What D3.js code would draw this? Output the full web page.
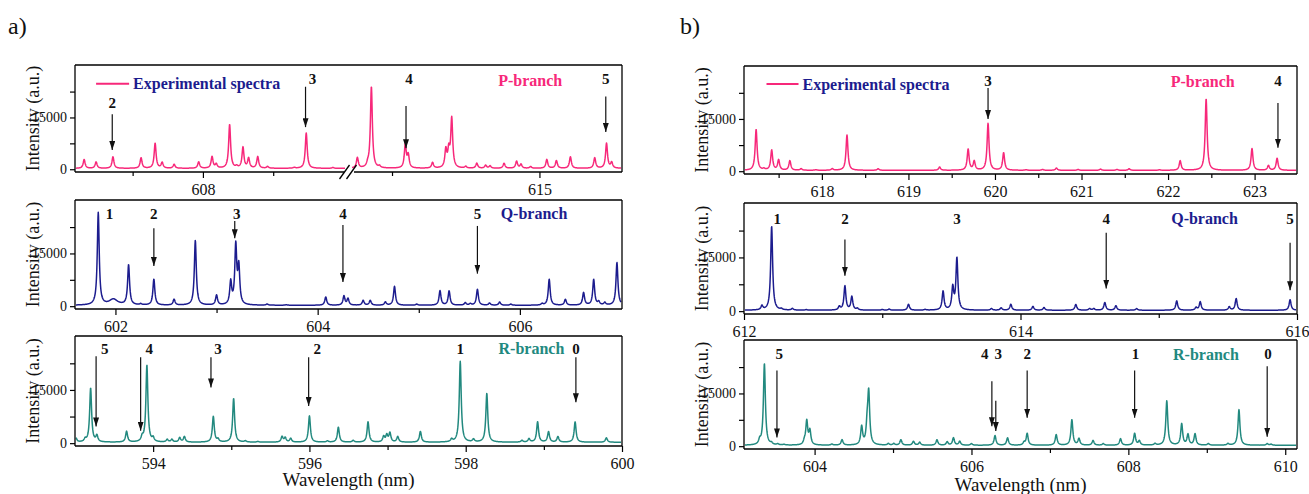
<!DOCTYPE html>
<html><head><meta charset="utf-8">
<script src="https://cdn.jsdelivr.net/npm/d3@7"></script>
<style>body{margin:0;background:#fff}svg{display:block}</style>
</head><body><svg id="c" width="1309" height="494"></svg>
<script>
// ---------- DATA (peak wavelength nm, intensity a.u.) ----------
const aP_peaks = [[606.31,2800],[606.48,2100],[606.72,3600],[607.12,3300],[607.32,7500],[607.42,1900],[607.59,1400],[607.94,2100],[608.13,3600],[608.19,1400],[608.38,12900],[608.48,750],[608.57,6300],[608.65,3100],[608.78,3600],[608.92,750],[609.30,500],[609.47,10500],[609.85,500],
  [612.53,3300],[612.67,1100],[612.72,23900],[612.83,750],[613.18,7000],[613.22,3900],[613.55,1900],[613.73,5400],[613.77,5000],[613.81,14500],[614.00,750],[614.15,1700],[614.27,1100],[614.33,950],[614.52,1700],[614.69,2300],[614.75,1400],[614.88,750],[615.10,2800],[615.23,2500],[615.42,3600],[615.75,3300],[615.91,7500],[615.98,1900]];
const aQ_peaks = [[601.83,26500],[602.13,11650],[602.25,570],[602.38,7640],[602.58,1900],[602.79,18700],[603.00,3050],[603.14,6700],[603.19,16900],[603.22,10700],[603.50,570],[603.69,380],[604.08,2600],[604.26,2860],[604.30,2100],[604.45,1620],[604.52,1620],[604.67,1150],[604.76,5630],[604.98,570],[605.21,4390],[605.30,4300],[605.46,955],[605.51,670],[605.58,4780],[605.70,860],[605.80,1150],[605.91,570],[606.22,670],[606.29,7640],[606.45,1900],[606.63,3820],[606.73,7540],[606.78,1150],[606.84,955],[606.96,12400]];
const aQ_broad = [[601.98,1900]];
const aR_peaks = [[593.01,1500],[593.13,1000],[593.20,15500],[593.28,2000],[593.66,3300],[593.86,1500],[593.92,22000],[594.00,1300],[594.18,1000],[594.24,1000],[594.34,1500],[594.40,1800],[594.77,7500],[594.83,1000],[595.03,12600],[595.18,600],[595.34,450],[595.65,1800],[595.69,1500],[595.76,1300],[596.00,7700],[596.23,600],[596.37,4500],[596.56,750],[596.75,6000],[596.95,1800],[596.99,2200],[597.03,2800],[597.13,1800],[597.42,3300],[597.93,23000],[597.82,1000],[598.10,1000],[598.27,14000],[598.72,750],[598.81,1200],[598.92,6000],[599.06,3200],[599.18,1800],[599.40,6000],[599.80,1500]];
const bP_peaks = [[617.24,12000],[617.33,600],[617.42,6000],[617.50,3200],[617.63,3000],[617.76,700],[617.93,400],[618.12,700],[618.29,10400],[618.65,700],[619.36,1200],[619.69,6300],[619.76,2800],[619.92,13700],[620.10,5300],[620.36,400],[620.55,500],[620.71,900],[620.96,500],[621.22,600],[621.41,500],[621.55,700],[621.90,400],[622.14,3000],[622.44,20800],[622.97,6500],[623.16,1600],[623.26,3700]];
const bQ_peaks = [[612.13,1400],[612.20,23700],[612.27,550],[612.35,700],[612.45,400],[612.69,1200],[612.73,7000],[612.78,4000],[612.82,700],[613.00,450],[613.05,550],[613.19,1900],[613.31,450],[613.44,5500],[613.51,6400],[613.54,14700],[613.79,700],[613.86,900],[613.93,1900],[614.09,1300],[614.17,1000],[614.40,1850],[614.50,700],[614.53,700],[614.61,2400],[614.69,1500],[614.84,700],[615.13,2850],[615.27,1000],[615.30,2600],[615.51,1200],[615.56,3500],[615.95,3200]];
const bR_peaks = [[603.30,1450],[603.36,23500],[603.45,700],[603.53,550],[603.61,450],[603.87,1200],[603.90,7000],[603.94,4200],[604.22,550],[604.35,1800],[604.60,5400],[604.67,5200],[604.69,14700],[604.94,700],[605.01,700],[605.10,1800],[605.26,1350],[605.34,1100],[605.56,1800],[605.69,1200],[605.77,2350],[605.85,1350],[606.00,700],[606.30,3000],[606.46,2350],[606.67,1000],[606.71,3600],[607.08,3250],[607.28,7500],[607.37,2100],[607.55,1600],[607.68,700],[607.90,2100],[608.08,3600],[608.14,1450],[608.34,700],[608.49,12900],[608.68,6300],[608.76,3250],[608.85,3450],[609.02,700],[609.27,700],[609.41,10400],[609.77,700],[609.82,550]];

// markers: [label, arrow x (nm) or null, label x (nm), label intensity, arrow start, arrow tip]
const aP_marks = [["2",606.71,606.71,19200,15900,5600],["3",609.46,609.56,26250,23900,12200],["4",613.19,613.23,26250,18300,6100],["5",615.90,615.90,26250,21100,10800]];
const aQ_marks = [["1",null,601.94,26400],["2",602.38,602.38,26400,22150,11460],["3",603.18,603.20,26400,24260,19290],["4",604.25,604.25,26400,23110,6880],["5",605.58,605.58,26400,22820,9260]];
const aR_marks = [["5",593.27,593.38,26650,24500,4700],["4",593.84,593.95,26650,24200,3500],["3",594.74,594.83,26650,24200,15700],["2",595.99,596.10,26650,24200,10500],["1",null,597.93,26650],["0",599.41,599.41,26650,24200,11500]];
const bP_marks = [["3",619.92,619.92,25900,23900,15000],["4",623.27,623.27,25900,19600,6700]];
const bQ_marks = [["1",null,612.24,25800],["2",612.73,612.73,25800,20000,9900],["3",null,613.54,25800],["4",614.62,614.62,25800,21900,6300],["5",615.95,615.95,25800,19100,5800]];
const bR_marks = [["5",603.52,603.55,26200,21500,2500],["4",606.26,606.17,26200,18500,5700],["3",606.31,606.34,26200,12900,4300],["2",606.71,606.71,26200,21500,8100],["1",608.08,608.09,26200,21500,8100],["0",609.77,609.78,26200,22700,2700]];

// axis ticks
const yTicks = [0,7500,15000,22500];
const yLabels = [0,15000];
const aP_ticksL = [607,608,609], aP_ticksR = [613,615], aP_labels = [608,615];
const aQ_ticks = [602,603,604,605,606], aQ_labels = [602,604,606];
const aR_ticks = [594,595,596,597,598,599,600], aR_labels = [594,596,598,600];
const bP_ticks = [617.5,618,618.5,619,619.5,620,620.5,621,621.5,622,622.5,623], bP_labels = [618,619,620,621,622,623];
const bQ_ticks = [612,613,614,615,616], bQ_labels = [612,614,616];
const bR_ticks = [604,605,606,607,608,609,610], bR_labels = [604,606,608,610];

// ---------- DRAWING ----------
const FONT = "'Liberation Serif','Times New Roman',Times,serif";
const PINK = "#f7287a", NAVY = "#1c1c8e", TEAL = "#22897f", BASE = 250;
const yDomain = [-800, 30200];
const svg = d3.select("#c");
const defs = svg.append("defs");
defs.append("marker").attr("id","ah").attr("viewBox","0 -3 9 6").attr("refX",9).attr("refY",0)
  .attr("markerWidth",9).attr("markerHeight",6).attr("markerUnits","userSpaceOnUse").attr("orient","auto")
  .append("path").attr("d","M0,-3L9,0L0,3Z").attr("fill","#111");

function panel(o){
  const g = svg.append("g");
  const y = d3.scaleLinear().domain(yDomain).range([o.y1, o.y0]);
  const cid = "clip" + o.id;
  defs.append("clipPath").attr("id", cid).append("rect").attr("x", o.x0).attr("y", o.y0).attr("width", o.x1 - o.x0).attr("height", o.y1 - o.y0);
  const xOf = v => { for (const s of o.segs){ const d = s.scale.domain(); if (v >= d[0] - 0.01 && v <= d[1] + 0.01) return s.scale(v);} return o.segs[0].scale(v); };
  // spectrum
  o.segs.forEach(s => {
    const dm = s.scale.domain();
    const pk = o.peaks.filter(p => p[0] >= dm[0] - 0.05 && p[0] <= dm[1] + 0.05).map(p => [s.scale(p[0]), p[1] - BASE, 1.15]);
    (o.broad || []).filter(p => p[0] >= dm[0] && p[0] <= dm[1]).forEach(p => pk.push([s.scale(p[0]), p[1] - BASE, 5]));
    const pts = [];
    for (let X = s.px0; X <= s.px1; X += 0.25){
      let v = BASE;
      for (const [xp, h, gm] of pk){ const d = X - xp; v += h * gm * gm / (d * d + gm * gm); }
      pts.push([X, y(v)]);
    }
    g.append("path").attr("clip-path", `url(#${cid})`).attr("d", d3.line()(pts))
      .attr("fill","none").attr("stroke", o.color).attr("stroke-width", 1.5).attr("stroke-linejoin","round");
  });
  // frame
  const fr = g.append("g").attr("stroke","#000").attr("stroke-width",1.3).attr("fill","none");
  fr.append("line").attr("x1",o.x0).attr("x2",o.x1).attr("y1",o.y0).attr("y2",o.y0);
  fr.append("line").attr("x1",o.x0).attr("x2",o.x0).attr("y1",o.y0).attr("y2",o.y1);
  fr.append("line").attr("x1",o.x1).attr("x2",o.x1).attr("y1",o.y0).attr("y2",o.y1);
  if (o.segs.length === 1){
    fr.append("line").attr("x1",o.x0).attr("x2",o.x1).attr("y1",o.y1).attr("y2",o.y1);
  } else {
    fr.append("line").attr("x1",o.x0).attr("x2",o.segs[0].px1 - 1).attr("y1",o.y1).attr("y2",o.y1);
    fr.append("line").attr("x1",o.segs[1].px0 + 2).attr("x2",o.x1).attr("y1",o.y1).attr("y2",o.y1);
    const bx = (o.segs[0].px1 + o.segs[1].px0) / 2;
    [-4, 3].forEach(dx => fr.append("line").attr("x1", bx + dx - 5).attr("x2", bx + dx + 5).attr("y1", o.y1 + 7).attr("y2", o.y1 - 7));
  }
  // x axis
  o.segs.forEach(s => {
    const ax = d3.axisBottom(s.scale).tickValues(s.ticks).tickSizeOuter(0)
      .tickSize(5).tickPadding(4).tickFormat(d => o.xLabels.includes(d) ? String(d) : "");
    const ag = g.append("g").attr("transform", `translate(0,${o.y1})`).call(ax);
    ag.select(".domain").remove();
    ag.selectAll(".tick line").attr("stroke","#000").attr("stroke-width",1.2)
      .attr("y2", d => o.xLabels.includes(d) ? 6 : 4);
    ag.selectAll(".tick text").attr("font-size",16).attr("fill","#111").attr("dy","0.85em");
  });
  // y axis
  const ay = d3.axisLeft(y).tickValues(yTicks).tickSize(5).tickPadding(3).tickFormat(d => yLabels.includes(d) ? String(d) : "");
  const yg = g.append("g").attr("transform", `translate(${o.x0},0)`).call(ay);
  yg.select(".domain").remove();
  yg.selectAll(".tick line").attr("stroke","#000").attr("stroke-width",1.2);
  yg.selectAll(".tick text").attr("font-size",14).attr("fill","#111");
  // y title
  g.append("text").attr("transform", `translate(${o.x0 - 36},${(o.y0 + o.y1) / 2}) rotate(-90)`)
    .attr("text-anchor","middle").attr("font-size",18).attr("fill","#111").text("Intensity (a.u.)");
  // markers
  o.marks.forEach(m => {
    g.append("text").attr("x", xOf(m[2])).attr("y", y(m[3])).attr("dy","0.35em").attr("text-anchor","middle")
      .attr("font-size",15).attr("font-weight","bold").attr("fill","#111").text(m[0]);
    if (m[1] !== null){
      g.append("line").attr("x1", xOf(m[1])).attr("x2", xOf(m[1])).attr("y1", y(m[4])).attr("y2", y(m[5]))
        .attr("stroke","#111").attr("stroke-width",1.2).attr("marker-end","url(#ah)");
    }
  });
  // branch label
  g.append("text").attr("x", xOf(o.branch[1])).attr("y", y(o.branch[2])).attr("dy","0.35em")
    .attr("font-size",16).attr("font-weight","bold").attr("fill", o.color).text(o.branch[0]);
  // legend
  if (o.legend){
    const L = o.legend;
    g.append("line").attr("x1", xOf(L[0])).attr("x2", xOf(L[1])).attr("y1", y(L[2])).attr("y2", y(L[2]))
      .attr("stroke", PINK).attr("stroke-width", 2);
    g.append("text").attr("x", xOf(L[1]) + 4).attr("y", y(L[2])).attr("dy","0.35em")
      .attr("font-size",16).attr("font-weight","bold").attr("fill", NAVY).text("Experimental spectra");
  }
}

const AX0 = 75, AX1 = 622, BX0 = 744, BX1 = 1297;
panel({id:"aP", x0:AX0, x1:AX1, y0:65, y1:172, color:PINK, peaks:aP_peaks, marks:aP_marks,
  segs:[{scale:d3.scaleLinear().domain([606.18,610.05]).range([AX0,347]), px0:AX0+1, px1:345, ticks:aP_ticksL},
        {scale:d3.scaleLinear().domain([612.43,616.12]).range([350,AX1]), px0:352, px1:AX1-1, ticks:aP_ticksR}],
  xLabels:aP_labels, branch:["P-branch",614.44,25800], legend:[606.48,606.95,24800]});
panel({id:"aQ", x0:AX0, x1:AX1, y0:200, y1:309, color:NAVY, peaks:aQ_peaks, broad:aQ_broad, marks:aQ_marks,
  segs:[{scale:d3.scaleLinear().domain([601.6,607.01]).range([AX0,AX1]), px0:AX0+1, px1:AX1-1, ticks:aQ_ticks}],
  xLabels:aQ_labels, branch:["Q-branch",605.81,26400]});
panel({id:"aR", x0:AX0, x1:AX1, y0:336, y1:446, color:TEAL, peaks:aR_peaks, marks:aR_marks,
  segs:[{scale:d3.scaleLinear().domain([593,600]).range([AX0,AX1]), px0:AX0+1, px1:AX1-1, ticks:aR_ticks}],
  xLabels:aR_labels, branch:["R-branch",598.42,26650]});
panel({id:"bP", x0:BX0, x1:BX1, y0:66, y1:174, color:PINK, peaks:bP_peaks, marks:bP_marks,
  segs:[{scale:d3.scaleLinear().domain([617.10,623.49]).range([BX0,BX1]), px0:BX0+1, px1:BX1-1, ticks:bP_ticks}],
  xLabels:bP_labels, branch:["P-branch",622.03,25900], legend:[617.36,617.73,25000]});
panel({id:"bQ", x0:BX0, x1:BX1, y0:203, y1:314, color:NAVY, peaks:bQ_peaks, marks:bQ_marks,
  segs:[{scale:d3.scaleLinear().domain([612,616]).range([BX0,BX1]), px0:BX0+1, px1:BX1-1, ticks:bQ_ticks}],
  xLabels:bQ_labels, branch:["Q-branch",615.09,25800]});
panel({id:"bR", x0:BX0, x1:BX1, y0:340, y1:449, color:TEAL, peaks:bR_peaks, marks:bR_marks,
  segs:[{scale:d3.scaleLinear().domain([603.1,610.15]).range([BX0,BX1]), px0:BX0+1, px1:BX1-1, ticks:bR_ticks}],
  xLabels:bR_labels, branch:["R-branch",608.57,26200]});

// titles
svg.append("text").attr("x",8).attr("y",34).attr("font-size",24).attr("fill","#111").text("a)");
svg.append("text").attr("x",680).attr("y",34).attr("font-size",24).attr("fill","#111").text("b)");
svg.append("text").attr("x",(AX0+AX1)/2).attr("y",486).attr("text-anchor","middle").attr("font-size",19).attr("fill","#111").text("Wavelength (nm)");
svg.append("text").attr("x",(BX0+BX1)/2).attr("y",491).attr("text-anchor","middle").attr("font-size",19).attr("fill","#111").text("Wavelength (nm)");

svg.selectAll("text").style("font-family", FONT);
</script></body></html>
